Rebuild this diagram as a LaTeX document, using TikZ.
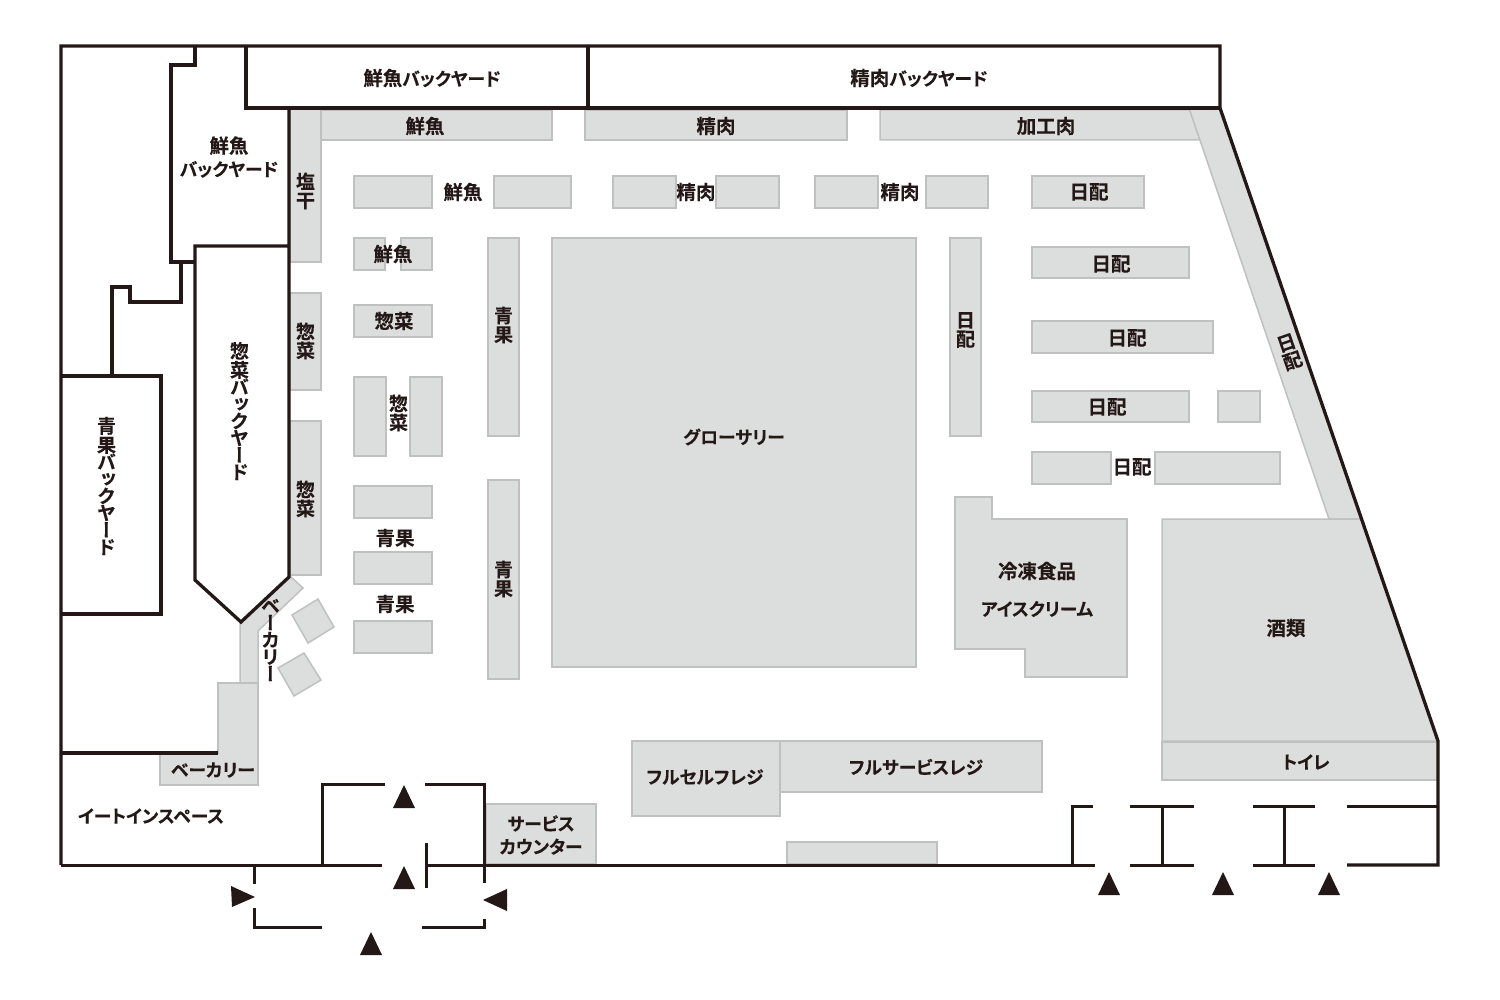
\documentclass[tikz,border=0pt]{standalone}
\usepackage{fontspec}
\setmainfont{Noto Sans CJK JP}[BoldFont=Noto Sans CJK JP Bold]
\newfontfamily\jpbold{Noto Sans CJK JP Bold}[RawFeature={+palt}, FakeBold=0.1]
\newfontfamily\jpvert{Noto Sans CJK JP Bold}[RawFeature={+vert}, FakeBold=0.1]
\newcommand{\kana}[1]{{\fontsize{17.8}{23}\selectfont #1}}
\definecolor{mgray}{rgb}{0.863, 0.867, 0.867}
\definecolor{medge}{rgb}{0.75, 0.755, 0.755}
\definecolor{mblack}{rgb}{0.137, 0.094, 0.082}
\tikzset{shelf/.style = {fill=mgray, draw=medge, line width=1.5}}
\tikzset{wall/.style = {draw=mblack, line width=3.3}}
\tikzset{door/.style = {draw=mblack, line width=3}}
\tikzset{lbl/.style = {text=mblack, inner sep=0, font=\jpbold\fontsize{19.5}{23}\selectfont, align=center}}
\tikzset{vlbl/.style = {text=mblack, inner sep=0, xshift=0.5, font=\jpvert\fontsize{19}{19}\selectfont, align=center}}
\begin{document}
\begin{tikzpicture}[x=1pt, y=-1pt]
  \useasboundingbox (0, 0) rectangle (1500, 1000);

  % shelves
  \foreach \xa/\ya/\xb/\yb in {321/110/552/140, 585/110/847/140, 290/108/321/262,
      354/176/432/208, 494/176/571/208, 613/176/676/208, 716/176/779/208,
      815/176/878/208, 926/176/988/208, 1032/176/1144/208,
      354/238/385/270, 401/238/432/270, 354/305/432/337,
      354/377/386/456, 410/377/442/456, 354/486/432/518, 354/552/432/584, 354/621/432/653,
      290/293/321/390, 290/421/321/575,
      488/238/519/436, 488/480/519/679, 552/238/916/667, 950/238/981/436,
      1032/247/1189/278, 1032/321/1213/353, 1032/391/1189/422, 1218/391/1260/422,
      1032/452/1111/484, 1155/452/1280/484,
      1162/742/1438/780, 632/741/780/816, 780/741/1042/792,
      486/804/596/864, 787/842/937/864} {
    \draw [shelf] (\xa, \ya) rectangle (\xb, \yb);
  }
  \draw [shelf] (880, 110) -- (1190, 110) -- (1200, 140) -- (880, 140) -- cycle;
  \draw [shelf] (1189, 108) -- (1220, 108) -- (1362, 519) -- (1329, 519) -- cycle;
  \draw [shelf] (1162, 519) -- (1362, 519) -- (1438, 741) -- (1162, 741) -- cycle;
  \draw [shelf] (955, 497) -- (992, 497) -- (992, 519) -- (1127, 519) -- (1127, 677)
      -- (1025, 677) -- (1025, 649) -- (955, 649) -- cycle;
  \draw [shelf] (290, 576) -- (303, 588) -- (258, 631) -- (258, 683) -- (240, 683) -- (240, 622) -- cycle;
  \draw [shelf] (218, 683) -- (258, 683) -- (258, 785) -- (160, 785) -- (160, 753) -- (218, 753) -- cycle;
  \draw [shelf] (318, 599) -- (334, 627) -- (308, 643) -- (292, 615) -- cycle;
  \draw [shelf] (304, 653) -- (321, 680) -- (294, 696) -- (278, 668) -- cycle;

  % walls
  \draw [wall] (61, 753) -- (218, 753);
  \draw [wall] (61, 865) -- (61, 46) -- (1220, 46) -- (1220, 108) -- (1438, 741) -- (1438, 865) -- (1347, 865);
  \draw [wall] (246, 46) -- (246, 108) -- (1220, 108);
  \draw [wall] (588, 46) -- (588, 108);
  \draw [wall] (195, 46) -- (195, 65) -- (171, 65) -- (171, 262) -- (195, 262);
  \draw [wall] (181, 262) -- (181, 302) -- (130, 302) -- (130, 287) -- (112, 287) -- (112, 376);
  \draw [wall] (289, 108) -- (289, 577) -- (241, 622) -- (195, 580) -- (195, 246) -- (289, 246);
  \draw [wall] (62, 376) -- (161, 376) -- (161, 614) -- (62, 614);

  % doors
  \foreach \xa/\xb in {61/382, 427/1095, 1130/1194, 1253/1315} {
    \draw [door] (\xa, 865) -- (\xb, 865);
  }
  \foreach \xa/\xb in {1130/1194, 1253/1315, 1347/1438} {
    \draw [door] (\xa, 806) -- (\xb, 806);
  }
  \foreach \x in {1162, 1284} {
    \draw [door] (\x, 806) -- (\x, 865);
  }
  \draw [door] (1095, 865) -- (1072, 865) -- (1072, 806) -- (1093, 806);
  \draw [door] (322, 865) -- (322, 784) -- (385, 784);
  \draw [door] (425, 784) -- (484, 784) -- (484, 883);
  \draw [door] (426, 843) -- (426, 888);
  \draw [door] (254, 865) -- (254, 884);
  \draw [door] (254, 908) -- (254, 927) -- (322, 927);
  \draw [door] (422, 927) -- (484, 927) -- (484, 919);

  % arrows
  \foreach \x/\y in {404/785, 404/866, 371/932, 1109/872, 1223/872, 1329/872} {
    \fill [mblack] (\x, \y) -- (\x + 11, \y + 23) -- (\x - 11, \y + 23) -- cycle;
  }
  \fill [mblack] (255, 897) -- (231, 886) -- (232, 907) -- cycle;
  \fill [mblack] (483, 900) -- (507, 889) -- (507, 911) -- cycle;

  % labels
  \foreach \x/\y/\t [count=\i] in {425/126/鮮魚, 716/126/精肉, 1046/126/加工肉,
      463/192/鮮魚, 696/192/精肉, 900/192/精肉, 1089/192/日配,
      393/254/鮮魚, 394/321/惣菜, 395/538/青果, 395/604/青果,
      1111/264/日配, 1127/338/日配, 1107/407/日配, 1132/467/日配,
      1037/571/冷凍食品, 1286/628/酒類} {
    \node [lbl] (lbl\i) at (\x, \y) {\t};
  }
  \foreach \x/\y/\t [count=\i] in {734/437/グローサリー, 1037/609/アイスクリーム, 1306/762/トイレ,
      705/777/フルセルフレジ, 916/767/フルサービスレジ, 151/816/イートインスペース,
      213/770/ベーカリー} {
    \node [lbl] (klbl\i) at (\x, \y) {\kana{\t}};
  }
  \node [lbl] (lblfishyard) at (432, 78) {鮮魚\kana{バックヤード}};
  \node [lbl] (lblmeatyard) at (919, 78) {精肉\kana{バックヤード}};
  \node [lbl] (lblfish) at (229, 157) {鮮魚\\\kana{バックヤード}};
  \node [lbl] (lblcounter) at (541, 835) {\kana{サービス}\\\kana{カウンター}};

  \node [vlbl] (vsalt) at (305, 191) {塩\\干};
  \node [vlbl] (vdeli) at (305, 341) {惣\\菜};
  \node [vlbl] (vdelib) at (398, 413) {惣\\菜};
  \node [vlbl] (vdelic) at (305, 499) {惣\\菜};
  \node [vlbl] (vveg) at (503, 325) {青\\果};
  \node [vlbl] (vvegb) at (503, 579) {青\\果};
  \node [vlbl] (vdaily) at (965, 330) {日\\配};
  \node [vlbl, rotate=19] (vdailyb) at (1289, 352) {日\\配};
  \node [vlbl] (vdeliback) at (239, 411) {惣\\菜\\[-2pt]バ\\[-2pt]ッ\\[-2pt]ク\\[-2pt]ヤ\\[-2pt]ー\\[-2pt]ド};
  \node [vlbl] (vvegback) at (106, 486) {青\\果\\[-2pt]バ\\[-2pt]ッ\\[-2pt]ク\\[-2pt]ヤ\\[-2pt]ー\\[-2pt]ド};
  \node [vlbl] (vbakery) at (270, 640) {ベ\\[-2pt]ー\\[-2pt]カ\\[-2pt]リ\\[-2pt]ー};
\end{tikzpicture}
\end{document}
